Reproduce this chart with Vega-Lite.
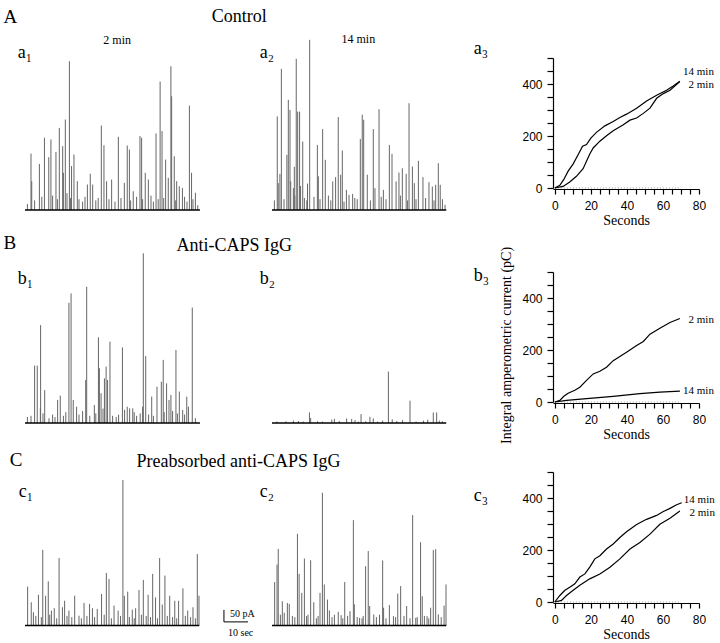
{
  "$schema": "https://vega.github.io/schema/vega-lite/v6.json",
  "background": "white",
  "padding": {"left": 3, "top": 7, "right": 4, "bottom": 4},
  "config": {
    "view": {"stroke": null},
    "axis": {"minExtent": 0, "grid": false, "titleFont": "Liberation Serif", "titleFontWeight": "normal", "titleColor": "black", "labelFont": "Liberation Sans", "labelColor": "black", "domainColor": "black", "tickColor": "black"},
    "text": {"font": "Liberation Serif", "color": "black"}
  },
  "datasets": {
    "rec": [
      {"panel": "a1", "start": 0, "end": 72.9}, {"panel": "a2", "start": 0, "end": 72.6},
      {"panel": "b1", "start": 0, "end": 72.9}, {"panel": "b2", "start": 0, "end": 72.6},
      {"panel": "c1", "start": 0, "end": 72.6}, {"panel": "c2", "start": 0, "end": 72.6},
      {"panel": "a3", "start": 0, "end": 70}, {"panel": "b3", "start": 0, "end": 70}, {"panel": "c3", "start": 0, "end": 70}
    ],
    "scalebar": [{"amplitude": "50 pA", "duration": "10 sec"}],
    "spikes": [
      {"panel":"a1","t":2.5,"h":235},{"panel":"a1","t":2.8,"h":120},{"panel":"a1","t":6.0,"h":192},{"panel":"a1","t":8.1,"h":301},{"panel":"a1","t":9.9,"h":220},{"panel":"a1","t":10.8,"h":294},{"panel":"a1","t":12.9,"h":242},{"panel":"a1","t":14.3,"h":342},{"panel":"a1","t":15.7,"h":266},{"panel":"a1","t":16.0,"h":155},{"panel":"a1","t":16.8,"h":377},{"panel":"a1","t":18.5,"h":620},{"panel":"a1","t":19.4,"h":183},{"panel":"a1","t":20.4,"h":231},{"panel":"a1","t":21.8,"h":120},{"panel":"a1","t":26.0,"h":106},{"panel":"a1","t":27.2,"h":151},{"panel":"a1","t":28.2,"h":106},{"panel":"a1","t":31.8,"h":352},{"panel":"a1","t":32.9,"h":270},{"panel":"a1","t":34.0,"h":120},{"panel":"a1","t":36.1,"h":127},{"panel":"a1","t":38.9,"h":305},{"panel":"a1","t":41.4,"h":113},{"panel":"a1","t":42.6,"h":269},{"panel":"a1","t":43.5,"h":252},{"panel":"a1","t":45.1,"h":78},{"panel":"a1","t":47.9,"h":308},{"panel":"a1","t":48.6,"h":301},{"panel":"a1","t":50.1,"h":155},{"panel":"a1","t":51.4,"h":127},{"panel":"a1","t":54.6,"h":319},{"panel":"a1","t":56.3,"h":535},{"panel":"a1","t":57.1,"h":329},{"panel":"a1","t":58.6,"h":210},{"panel":"a1","t":59.7,"h":134},{"panel":"a1","t":60.8,"h":599},{"panel":"a1","t":61.1,"h":474},{"panel":"a1","t":62.2,"h":224},{"panel":"a1","t":63.2,"h":120},{"panel":"a1","t":64.3,"h":99},{"panel":"a1","t":65.6,"h":92},{"panel":"a1","t":68.5,"h":435},{"panel":"a1","t":69.4,"h":155},{"panel":"a1","t":71.0,"h":72},
      {"panel":"a1","t":1,"h":25},{"panel":"a1","t":4,"h":40},{"panel":"a1","t":7,"h":55},{"panel":"a1","t":11.5,"h":60},{"panel":"a1","t":13.5,"h":45},{"panel":"a1","t":17.5,"h":70},{"panel":"a1","t":19,"h":50},{"panel":"a1","t":22.5,"h":45},{"panel":"a1","t":24,"h":35},{"panel":"a1","t":25,"h":55},{"panel":"a1","t":29.5,"h":40},{"panel":"a1","t":30.5,"h":50},{"panel":"a1","t":35,"h":45},{"panel":"a1","t":37.5,"h":35},{"panel":"a1","t":40,"h":50},{"panel":"a1","t":44,"h":40},{"panel":"a1","t":46.5,"h":55},{"panel":"a1","t":49,"h":45},{"panel":"a1","t":52.5,"h":60},{"panel":"a1","t":53.5,"h":35},{"panel":"a1","t":55.5,"h":45},{"panel":"a1","t":57.8,"h":50},{"panel":"a1","t":62.8,"h":40},{"panel":"a1","t":66.5,"h":55},{"panel":"a1","t":67.5,"h":35},{"panel":"a1","t":70,"h":45},{"panel":"a1","t":72,"h":20},
      {"panel":"a2","t":2.2,"h":390},{"panel":"a2","t":2.6,"h":112},{"panel":"a2","t":3.9,"h":588},{"panel":"a2","t":6.2,"h":230},{"panel":"a2","t":6.8,"h":459},{"panel":"a2","t":7.5,"h":417},{"panel":"a2","t":8.9,"h":91},{"panel":"a2","t":10.1,"h":630},{"panel":"a2","t":10.7,"h":410},{"panel":"a2","t":11.5,"h":410},{"panel":"a2","t":12.8,"h":285},{"panel":"a2","t":15.7,"h":709},{"panel":"a2","t":18.9,"h":271},{"panel":"a2","t":19.3,"h":140},{"panel":"a2","t":21.1,"h":337},{"panel":"a2","t":22.2,"h":209},{"panel":"a2","t":25.3,"h":119},{"panel":"a2","t":26.5,"h":137},{"panel":"a2","t":27.6,"h":387},{"panel":"a2","t":28.6,"h":147},{"panel":"a2","t":29.3,"h":248},{"panel":"a2","t":31.0,"h":84},{"panel":"a2","t":32.1,"h":63},{"panel":"a2","t":33.6,"h":67},{"panel":"a2","t":36.8,"h":296},{"panel":"a2","t":37.6,"h":397},{"panel":"a2","t":38.2,"h":376},{"panel":"a2","t":39.7,"h":147},{"panel":"a2","t":42.2,"h":337},{"panel":"a2","t":42.9,"h":91},{"panel":"a2","t":44.6,"h":420},{"panel":"a2","t":46.4,"h":84},{"panel":"a2","t":48.9,"h":271},{"panel":"a2","t":50.0,"h":234},{"panel":"a2","t":51.7,"h":119},{"panel":"a2","t":52.9,"h":156},{"panel":"a2","t":54.3,"h":174},{"panel":"a2","t":55.9,"h":151},{"panel":"a2","t":57.1,"h":445},{"panel":"a2","t":58.5,"h":181},{"panel":"a2","t":59.3,"h":112},{"panel":"a2","t":61.0,"h":205},{"panel":"a2","t":62.9,"h":137},{"panel":"a2","t":65.4,"h":116},{"panel":"a2","t":66.8,"h":98},{"panel":"a2","t":68.2,"h":105},{"panel":"a2","t":69.3,"h":195},{"panel":"a2","t":70.1,"h":105},{"panel":"a2","t":72.1,"h":22},
      {"panel":"a2","t":3.3,"h":150},{"panel":"a2","t":7.8,"h":120},{"panel":"a2","t":9.3,"h":180},{"panel":"a2","t":11.9,"h":100},{"panel":"a2","t":14.8,"h":110},
      {"panel":"a2","t":1,"h":40},{"panel":"a2","t":5,"h":45},{"panel":"a2","t":9.5,"h":60},{"panel":"a2","t":13.5,"h":50},{"panel":"a2","t":14.5,"h":40},{"panel":"a2","t":17.5,"h":55},{"panel":"a2","t":20,"h":45},{"panel":"a2","t":23.5,"h":60},{"panel":"a2","t":24.5,"h":40},{"panel":"a2","t":30,"h":35},{"panel":"a2","t":34.5,"h":50},{"panel":"a2","t":35.5,"h":45},{"panel":"a2","t":41,"h":40},{"panel":"a2","t":45.5,"h":55},{"panel":"a2","t":47.5,"h":45},{"panel":"a2","t":53.5,"h":60},{"panel":"a2","t":56.5,"h":40},{"panel":"a2","t":60,"h":45},{"panel":"a2","t":64,"h":50},{"panel":"a2","t":67.5,"h":40},{"panel":"a2","t":71,"h":45},
      {"panel":"b1","t":4.0,"h":239},{"panel":"b1","t":5.1,"h":239},{"panel":"b1","t":6.4,"h":61},{"panel":"b1","t":6.5,"h":408},{"panel":"b1","t":8.2,"h":137},{"panel":"b1","t":13.6,"h":96},{"panel":"b1","t":14.7,"h":114},{"panel":"b1","t":18.3,"h":501},{"panel":"b1","t":19.2,"h":540},{"panel":"b1","t":20.1,"h":96},{"panel":"b1","t":21.5,"h":68},{"panel":"b1","t":25.3,"h":179},{"panel":"b1","t":25.7,"h":568},{"panel":"b1","t":28.9,"h":75},{"panel":"b1","t":30.6,"h":357},{"panel":"b1","t":31.0,"h":228},{"panel":"b1","t":31.7,"h":124},{"panel":"b1","t":33.1,"h":186},{"panel":"b1","t":33.8,"h":235},{"panel":"b1","t":34.4,"h":179},{"panel":"b1","t":35.4,"h":339},{"panel":"b1","t":40.6,"h":315},{"panel":"b1","t":42.6,"h":68},{"panel":"b1","t":43.6,"h":61},{"panel":"b1","t":44.9,"h":61},{"panel":"b1","t":49.0,"h":68},{"panel":"b1","t":49.3,"h":707},{"panel":"b1","t":50.3,"h":279},{"panel":"b1","t":52.8,"h":110},{"panel":"b1","t":55.0,"h":151},{"panel":"b1","t":56.8,"h":172},{"panel":"b1","t":57.6,"h":263},{"panel":"b1","t":59.0,"h":165},{"panel":"b1","t":60.0,"h":96},{"panel":"b1","t":60.8,"h":117},{"panel":"b1","t":62.9,"h":304},{"panel":"b1","t":64.3,"h":131},{"panel":"b1","t":65.7,"h":54},{"panel":"b1","t":67.4,"h":110},{"panel":"b1","t":68.1,"h":68},{"panel":"b1","t":69.7,"h":481},
      {"panel":"b1","t":1,"h":25},{"panel":"b1","t":2.5,"h":30},{"panel":"b1","t":7.5,"h":40},{"panel":"b1","t":10,"h":20},{"panel":"b1","t":11.5,"h":35},{"panel":"b1","t":12.5,"h":25},{"panel":"b1","t":16,"h":30},{"panel":"b1","t":17,"h":45},{"panel":"b1","t":22.5,"h":35},{"panel":"b1","t":24,"h":50},{"panel":"b1","t":27,"h":30},{"panel":"b1","t":29.5,"h":40},{"panel":"b1","t":32.5,"h":60},{"panel":"b1","t":36.5,"h":30},{"panel":"b1","t":38,"h":25},{"panel":"b1","t":39,"h":35},{"panel":"b1","t":41.5,"h":55},{"panel":"b1","t":45.5,"h":45},{"panel":"b1","t":46.5,"h":30},{"panel":"b1","t":48,"h":40},{"panel":"b1","t":51.5,"h":35},{"panel":"b1","t":53.5,"h":30},{"panel":"b1","t":58,"h":45},{"panel":"b1","t":61.5,"h":50},{"panel":"b1","t":63.5,"h":40},{"panel":"b1","t":66.5,"h":35},{"panel":"b1","t":71,"h":20},
      {"panel":"b2","t":5.8,"h":7},{"panel":"b2","t":8.9,"h":10},{"panel":"b2","t":15.6,"h":44},{"panel":"b2","t":16.1,"h":21},{"panel":"b2","t":24.9,"h":14},{"panel":"b2","t":26.0,"h":17},{"panel":"b2","t":31.1,"h":19},{"panel":"b2","t":33.2,"h":17},{"panel":"b2","t":34.6,"h":12},{"panel":"b2","t":37.1,"h":37},{"panel":"b2","t":40.8,"h":26},{"panel":"b2","t":42.2,"h":19},{"panel":"b2","t":46.1,"h":10},{"panel":"b2","t":48.5,"h":214},{"panel":"b2","t":50.1,"h":15},{"panel":"b2","t":54.4,"h":12},{"panel":"b2","t":57.5,"h":93},{"panel":"b2","t":63.1,"h":10},{"panel":"b2","t":64.9,"h":14},{"panel":"b2","t":67.2,"h":44},{"panel":"b2","t":68.6,"h":44},{"panel":"b2","t":69.7,"h":10},
      {"panel":"b2","t":2,"h":6},{"panel":"b2","t":11,"h":8},{"panel":"b2","t":13,"h":6},{"panel":"b2","t":19,"h":7},{"panel":"b2","t":21,"h":6},{"panel":"b2","t":28,"h":8},{"panel":"b2","t":36,"h":6},{"panel":"b2","t":39,"h":7},{"panel":"b2","t":44,"h":6},{"panel":"b2","t":52,"h":8},{"panel":"b2","t":60,"h":6},{"panel":"b2","t":71,"h":7},
      {"panel":"c1","t":1.1,"h":162},{"panel":"c1","t":2.6,"h":97},{"panel":"c1","t":3.5,"h":55},{"panel":"c1","t":5.6,"h":128},{"panel":"c1","t":7.4,"h":315},{"panel":"c1","t":8.6,"h":124},{"panel":"c1","t":9.7,"h":184},{"panel":"c1","t":11.0,"h":62},{"panel":"c1","t":12.2,"h":72},{"panel":"c1","t":14.2,"h":281},{"panel":"c1","t":15.6,"h":76},{"panel":"c1","t":16.5,"h":103},{"panel":"c1","t":18.3,"h":62},{"panel":"c1","t":20.7,"h":124},{"panel":"c1","t":22.5,"h":41},{"panel":"c1","t":24.6,"h":94},{"panel":"c1","t":26.9,"h":90},{"panel":"c1","t":28.1,"h":72},{"panel":"c1","t":30.1,"h":69},{"panel":"c1","t":31.9,"h":131},{"panel":"c1","t":33.9,"h":219},{"panel":"c1","t":35.0,"h":194},{"panel":"c1","t":37.1,"h":83},{"panel":"c1","t":38.8,"h":62},{"panel":"c1","t":40.8,"h":606},{"panel":"c1","t":41.4,"h":124},{"panel":"c1","t":42.8,"h":141},{"panel":"c1","t":44.7,"h":66},{"panel":"c1","t":46.1,"h":72},{"panel":"c1","t":47.5,"h":148},{"panel":"c1","t":49.3,"h":190},{"panel":"c1","t":51.3,"h":128},{"panel":"c1","t":53.2,"h":215},{"panel":"c1","t":54.4,"h":117},{"panel":"c1","t":56.1,"h":281},{"panel":"c1","t":57.2,"h":87},{"panel":"c1","t":58.3,"h":208},{"panel":"c1","t":60.3,"h":124},{"panel":"c1","t":62.4,"h":103},{"panel":"c1","t":64.0,"h":103},{"panel":"c1","t":65.8,"h":155},{"panel":"c1","t":67.8,"h":62},{"panel":"c1","t":70.0,"h":76},{"panel":"c1","t":71.8,"h":298},{"panel":"c1","t":72.5,"h":124},
      {"panel":"c1","t":4.5,"h":40},{"panel":"c1","t":6.8,"h":35},{"panel":"c1","t":10.3,"h":45},{"panel":"c1","t":13.2,"h":30},{"panel":"c1","t":17.5,"h":40},{"panel":"c1","t":19.5,"h":35},{"panel":"c1","t":23.5,"h":30},{"panel":"c1","t":25.8,"h":40},{"panel":"c1","t":29,"h":35},{"panel":"c1","t":33,"h":45},{"panel":"c1","t":36,"h":30},{"panel":"c1","t":39.8,"h":40},{"panel":"c1","t":43.5,"h":35},{"panel":"c1","t":45.5,"h":30},{"panel":"c1","t":48.5,"h":45},{"panel":"c1","t":50.5,"h":40},{"panel":"c1","t":52.3,"h":35},{"panel":"c1","t":55.2,"h":30},{"panel":"c1","t":59.3,"h":40},{"panel":"c1","t":61.5,"h":35},{"panel":"c1","t":63.2,"h":30},{"panel":"c1","t":66.8,"h":40},{"panel":"c1","t":69,"h":35},{"panel":"c1","t":71,"h":30},
      {"panel":"c2","t":1.1,"h":181},{"panel":"c2","t":2.1,"h":254},{"panel":"c2","t":2.6,"h":319},{"panel":"c2","t":4.3,"h":101},{"panel":"c2","t":5.1,"h":53},{"panel":"c2","t":6.4,"h":94},{"panel":"c2","t":7.2,"h":90},{"panel":"c2","t":10.6,"h":382},{"panel":"c2","t":11.3,"h":215},{"panel":"c2","t":12.4,"h":136},{"panel":"c2","t":13.5,"h":279},{"panel":"c2","t":14.4,"h":39},{"panel":"c2","t":16.1,"h":272},{"panel":"c2","t":17.4,"h":97},{"panel":"c2","t":20.0,"h":136},{"panel":"c2","t":21.0,"h":553},{"panel":"c2","t":21.8,"h":171},{"panel":"c2","t":23.1,"h":108},{"panel":"c2","t":23.9,"h":63},{"panel":"c2","t":27.6,"h":57},{"panel":"c2","t":28.8,"h":43},{"panel":"c2","t":30.3,"h":181},{"panel":"c2","t":32.5,"h":60},{"panel":"c2","t":33.9,"h":439},{"panel":"c2","t":34.3,"h":88},{"panel":"c2","t":36.5,"h":32},{"panel":"c2","t":39.0,"h":247},{"panel":"c2","t":40.1,"h":310},{"panel":"c2","t":40.7,"h":81},{"panel":"c2","t":42.4,"h":46},{"panel":"c2","t":46.1,"h":271},{"panel":"c2","t":46.5,"h":74},{"panel":"c2","t":48.9,"h":85},{"panel":"c2","t":50.6,"h":39},{"panel":"c2","t":52.4,"h":133},{"panel":"c2","t":53.6,"h":164},{"panel":"c2","t":56.1,"h":81},{"panel":"c2","t":58.6,"h":460},{"panel":"c2","t":59.9,"h":32},{"panel":"c2","t":61.9,"h":347},{"panel":"c2","t":62.6,"h":122},{"panel":"c2","t":64.6,"h":39},{"panel":"c2","t":66.1,"h":74},{"panel":"c2","t":67.2,"h":314},{"panel":"c2","t":68.2,"h":318},{"panel":"c2","t":69.3,"h":46},{"panel":"c2","t":71.7,"h":83},{"panel":"c2","t":72.5,"h":171},
      {"panel":"c2","t":3.5,"h":45},{"panel":"c2","t":8.5,"h":40},{"panel":"c2","t":9.5,"h":35},{"panel":"c2","t":15,"h":45},{"panel":"c2","t":18.5,"h":30},{"panel":"c2","t":19.2,"h":40},{"panel":"c2","t":25,"h":35},{"panel":"c2","t":26,"h":45},{"panel":"c2","t":29.5,"h":30},{"panel":"c2","t":31.5,"h":40},{"panel":"c2","t":35.5,"h":35},{"panel":"c2","t":37.5,"h":30},{"panel":"c2","t":38,"h":40},{"panel":"c2","t":43.5,"h":35},{"panel":"c2","t":44.8,"h":45},{"panel":"c2","t":47.5,"h":30},{"panel":"c2","t":51.5,"h":35},{"panel":"c2","t":55,"h":40},{"panel":"c2","t":57.5,"h":30},{"panel":"c2","t":60.5,"h":35},{"panel":"c2","t":63.5,"h":40},{"panel":"c2","t":65.3,"h":30},{"panel":"c2","t":70.5,"h":35}
    ],
    "cum": [
      {"panel":"a3","series":"14 min","t":0,"v":0},{"panel":"a3","series":"14 min","t":2.8,"v":10},{"panel":"a3","series":"14 min","t":5,"v":33},{"panel":"a3","series":"14 min","t":7.4,"v":65},{"panel":"a3","series":"14 min","t":10.2,"v":93},{"panel":"a3","series":"14 min","t":13,"v":129},{"panel":"a3","series":"14 min","t":15.4,"v":161},{"panel":"a3","series":"14 min","t":17.6,"v":167},{"panel":"a3","series":"14 min","t":20,"v":192},{"panel":"a3","series":"14 min","t":23.1,"v":214},{"panel":"a3","series":"14 min","t":27.8,"v":239},{"panel":"a3","series":"14 min","t":32.4,"v":256},{"panel":"a3","series":"14 min","t":36.1,"v":271},{"panel":"a3","series":"14 min","t":39.8,"v":284},{"panel":"a3","series":"14 min","t":45.4,"v":307},{"panel":"a3","series":"14 min","t":50.9,"v":335},{"panel":"a3","series":"14 min","t":56.5,"v":357},{"panel":"a3","series":"14 min","t":62,"v":376},{"panel":"a3","series":"14 min","t":65.7,"v":392},{"panel":"a3","series":"14 min","t":69.4,"v":411},
      {"panel":"a3","series":"2 min","t":0,"v":0},{"panel":"a3","series":"2 min","t":4.6,"v":6},{"panel":"a3","series":"2 min","t":8.3,"v":23},{"panel":"a3","series":"2 min","t":12,"v":45},{"panel":"a3","series":"2 min","t":15.7,"v":74},{"panel":"a3","series":"2 min","t":19.4,"v":131},{"panel":"a3","series":"2 min","t":21.3,"v":154},{"panel":"a3","series":"2 min","t":25,"v":180},{"panel":"a3","series":"2 min","t":28.7,"v":201},{"panel":"a3","series":"2 min","t":32.4,"v":220},{"panel":"a3","series":"2 min","t":38,"v":243},{"panel":"a3","series":"2 min","t":41.7,"v":261},{"panel":"a3","series":"2 min","t":45.4,"v":269},{"panel":"a3","series":"2 min","t":49.1,"v":287},{"panel":"a3","series":"2 min","t":52.8,"v":307},{"panel":"a3","series":"2 min","t":56.5,"v":345},{"panel":"a3","series":"2 min","t":60.2,"v":363},{"panel":"a3","series":"2 min","t":63.9,"v":376},{"panel":"a3","series":"2 min","t":69.4,"v":409},
      {"panel":"b3","series":"2 min","t":0,"v":0},{"panel":"b3","series":"2 min","t":2.8,"v":6},{"panel":"b3","series":"2 min","t":5,"v":22},{"panel":"b3","series":"2 min","t":7.4,"v":34},{"panel":"b3","series":"2 min","t":11.1,"v":45},{"panel":"b3","series":"2 min","t":13.9,"v":57},{"panel":"b3","series":"2 min","t":17.6,"v":83},{"panel":"b3","series":"2 min","t":21.3,"v":108},{"panel":"b3","series":"2 min","t":25,"v":118},{"panel":"b3","series":"2 min","t":28.7,"v":134},{"panel":"b3","series":"2 min","t":32.4,"v":159},{"panel":"b3","series":"2 min","t":36.1,"v":175},{"panel":"b3","series":"2 min","t":39.8,"v":191},{"panel":"b3","series":"2 min","t":45.4,"v":217},{"panel":"b3","series":"2 min","t":49.1,"v":233},{"panel":"b3","series":"2 min","t":52.8,"v":261},{"panel":"b3","series":"2 min","t":58.3,"v":284},{"panel":"b3","series":"2 min","t":63.9,"v":306},{"panel":"b3","series":"2 min","t":69.4,"v":321},
      {"panel":"b3","series":"14 min","t":0,"v":0},{"panel":"b3","series":"14 min","t":6.5,"v":6},{"panel":"b3","series":"14 min","t":17.6,"v":13},{"panel":"b3","series":"14 min","t":32.4,"v":22},{"panel":"b3","series":"14 min","t":47.2,"v":32},{"panel":"b3","series":"14 min","t":58.3,"v":38},{"panel":"b3","series":"14 min","t":69.4,"v":42},
      {"panel":"c3","series":"14 min","t":0,"v":0},{"panel":"c3","series":"14 min","t":2.8,"v":25},{"panel":"c3","series":"14 min","t":5.6,"v":45},{"panel":"c3","series":"14 min","t":8.3,"v":57},{"panel":"c3","series":"14 min","t":11.1,"v":70},{"panel":"c3","series":"14 min","t":13.9,"v":96},{"panel":"c3","series":"14 min","t":16.7,"v":108},{"panel":"c3","series":"14 min","t":19.4,"v":134},{"panel":"c3","series":"14 min","t":22.2,"v":166},{"panel":"c3","series":"14 min","t":25,"v":178},{"panel":"c3","series":"14 min","t":28.7,"v":204},{"panel":"c3","series":"14 min","t":32.4,"v":223},{"panel":"c3","series":"14 min","t":36.1,"v":248},{"panel":"c3","series":"14 min","t":39.8,"v":270},{"panel":"c3","series":"14 min","t":45.4,"v":298},{"panel":"c3","series":"14 min","t":50.9,"v":318},{"panel":"c3","series":"14 min","t":56.5,"v":333},{"panel":"c3","series":"14 min","t":60.2,"v":348},{"panel":"c3","series":"14 min","t":63.9,"v":360},{"panel":"c3","series":"14 min","t":67.6,"v":374},{"panel":"c3","series":"14 min","t":70.4,"v":382},
      {"panel":"c3","series":"2 min","t":0,"v":0},{"panel":"c3","series":"2 min","t":3.7,"v":6},{"panel":"c3","series":"2 min","t":6.5,"v":25},{"panel":"c3","series":"2 min","t":10.2,"v":45},{"panel":"c3","series":"2 min","t":13.9,"v":64},{"panel":"c3","series":"2 min","t":19.4,"v":89},{"panel":"c3","series":"2 min","t":25,"v":108},{"panel":"c3","series":"2 min","t":30.6,"v":134},{"panel":"c3","series":"2 min","t":36.1,"v":166},{"panel":"c3","series":"2 min","t":41.7,"v":204},{"panel":"c3","series":"2 min","t":47.2,"v":229},{"panel":"c3","series":"2 min","t":52.8,"v":261},{"panel":"c3","series":"2 min","t":58.3,"v":299},{"panel":"c3","series":"2 min","t":63.9,"v":322},{"panel":"c3","series":"2 min","t":69.4,"v":350}
    ]
  },
  "columns": 3,
  "bounds": "flush",
  "align": "each",
  "spacing": {"row": 46, "column": 72},
  "concat": [
    {
      "width": 175, "height": 168,
      "layer": [
        {"data": {"name": "spikes"}, "transform": [{"filter": "datum.panel === 'a1'"}],
         "mark": {"type": "rule", "color": "#666", "strokeWidth": 1},
         "encoding": {
           "x": {"field": "t", "type": "quantitative", "scale": {"domain": [0, 72.92], "nice": false}, "axis": {"orient": "top", "labels": false, "ticks": false, "domain": false, "title": "2 min", "titleX": 91.7, "titleY": -14.7, "titleAngle": 0, "titleAlign": "center", "titleBaseline": "alphabetic", "titleFontSize": 12}},
           "y": {"field": "h", "type": "quantitative", "scale": {"domain": [-66.67, 633.33], "nice": false}, "axis": {"orient": "left", "labels": false, "ticks": false, "domain": false, "title": "a₁", "titleX": -7.7, "titleY": -0.7, "titleAngle": 0, "titleAlign": "left", "titleBaseline": "alphabetic", "titleFontSize": 18}},
           "y2": {"datum": 0}
         }},
        {"data": {"name": "rec"}, "transform": [{"filter": "datum.panel === 'a1'"}],
         "mark": {"type": "rule", "color": "black", "strokeWidth": 1.5},
         "encoding": {
           "x": {"field": "start", "type": "quantitative", "scale": {"domain": [0, 72.92], "nice": false}, "axis": {"orient": "bottom", "labels": false, "ticks": false, "domain": false, "title": "Control", "titleX": 213.7, "titleY": -205, "titleAngle": 0, "titleAlign": "center", "titleBaseline": "alphabetic", "titleFontSize": 18}},
           "x2": {"field": "end"},
           "y": {"datum": 0, "type": "quantitative", "scale": {"domain": [-66.67, 633.33], "nice": false}, "axis": {"orient": "right", "labels": false, "ticks": false, "domain": false, "title": "A", "titleX": -197, "titleY": -36, "titleAngle": 0, "titleAlign": "left", "titleBaseline": "alphabetic", "titleFontSize": 19}}
         }}
      ],
      "resolve": {"axis": {"x": "independent", "y": "independent"}}
    },
    {
      "width": 209, "height": 168,
      "layer": [
        {"data": {"name": "spikes"}, "transform": [{"filter": "datum.panel === 'a2'"}],
         "mark": {"type": "rule", "color": "#666", "strokeWidth": 1},
         "encoding": {
           "x": {"field": "t", "type": "quantitative", "scale": {"domain": [0, 87.08], "nice": false}, "axis": {"orient": "top", "labels": false, "ticks": false, "domain": false, "title": "14 min", "titleX": 85.8, "titleY": -15.3, "titleAngle": 0, "titleAlign": "center", "titleBaseline": "alphabetic", "titleFontSize": 12}},
           "y": {"field": "h", "type": "quantitative", "scale": {"domain": [-66.67, 633.33], "nice": false}, "axis": {"orient": "left", "labels": false, "ticks": false, "domain": false, "title": "a₂", "titleX": -12.7, "titleY": -0.7, "titleAngle": 0, "titleAlign": "left", "titleBaseline": "alphabetic", "titleFontSize": 18}},
           "y2": {"datum": 0}
         }},
        {"data": {"name": "rec"}, "transform": [{"filter": "datum.panel === 'a2'"}],
         "mark": {"type": "rule", "color": "black", "strokeWidth": 1.5},
         "encoding": {
           "x": {"field": "start", "type": "quantitative", "scale": {"domain": [0, 87.08], "nice": false}, "axis": null},
           "x2": {"field": "end"},
           "y": {"datum": 0, "type": "quantitative", "scale": {"domain": [-66.67, 633.33], "nice": false}, "axis": null}
         }}
      ],
      "resolve": {"axis": {"x": "independent", "y": "independent"}}
    },
    {
      "width": 146, "height": 130,
      "layer": [
        {"data": {"name": "rec"}, "transform": [{"filter": "datum.panel === 'a3'"}],
         "mark": {"type": "rule", "color": "#999", "strokeWidth": 1, "strokeDash": [1, 2]},
         "encoding": {
           "x": {"field": "start", "type": "quantitative", "scale": {"domain": [-1, 80], "nice": false}, "axis": null},
           "x2": {"field": "end"},
           "y": {"datum": 0, "type": "quantitative", "scale": {"domain": [0, 500], "nice": false}, "axis": null}
         }},
        {"data": {"name": "cum"}, "transform": [{"filter": "datum.panel === 'a3'"}],
         "mark": {"type": "line", "color": "black", "strokeWidth": 1.2},
         "encoding": {
           "x": {"field": "t", "type": "quantitative", "scale": {"domain": [-1, 80], "nice": false}, "axis": {"orient": "bottom", "offset": 1, "values": [0,5,10,15,20,25,30,35,40,45,50,55,60,65,70,75,80], "labelExpr": "datum.value % 20 === 0 ? datum.label : ''", "tickSize": 5, "tickWidth": 1.2, "domainWidth": 1.2, "labelFontSize": 12, "labelPadding": 6, "labelFlush": false, "labelOverlap": false, "title": "Seconds", "titleFontSize": 14, "titlePadding": 2}},
           "y": {"field": "v", "type": "quantitative", "scale": {"domain": [0, 500], "nice": false}, "axis": {"orient": "left", "values": [0,50,100,150,200,250,300,350,400,450,500], "labelExpr": "datum.value % 200 === 0 ? datum.label : ''", "tickSize": 6, "tickWidth": 1.2, "domainWidth": 1.2, "labelFontSize": 12, "labelPadding": 5, "labelOverlap": false, "title": null}},
           "detail": {"field": "series"}
         }},
        {"data": {"name": "cum"}, "transform": [{"filter": "datum.panel === 'a3' && datum.series === '14 min' && datum.t > 69"}],
         "mark": {"type": "text", "align": "right", "baseline": "middle", "dx": 34, "dy": -9, "fontSize": 11},
         "encoding": {
           "x": {"field": "t", "type": "quantitative", "scale": {"domain": [-1, 80], "nice": false}, "axis": {"orient": "top", "labels": false, "ticks": false, "domain": false, "title": "a₃", "titleX": -79.7, "titleY": -4.7, "titleAngle": 0, "titleAlign": "left", "titleBaseline": "alphabetic", "titleFontSize": 18}},
           "y": {"field": "v", "type": "quantitative", "scale": {"domain": [0, 500], "nice": false}, "axis": null},
           "text": {"field": "series"}
         }},
        {"data": {"name": "cum"}, "transform": [{"filter": "datum.panel === 'a3' && datum.series === '2 min' && datum.t > 69"}],
         "mark": {"type": "text", "align": "right", "baseline": "middle", "dx": 34, "dy": 3, "fontSize": 11},
         "encoding": {
           "x": {"field": "t", "type": "quantitative", "scale": {"domain": [-1, 80], "nice": false}, "axis": null},
           "y": {"field": "v", "type": "quantitative", "scale": {"domain": [0, 500], "nice": false}, "axis": null},
           "text": {"field": "series"}
         }}
      ],
      "resolve": {"axis": {"x": "independent", "y": "independent"}}
    },
    {
      "width": 175, "height": 154,
      "layer": [
        {"data": {"name": "spikes"}, "transform": [{"filter": "datum.panel === 'b1'"}],
         "mark": {"type": "rule", "color": "#666", "strokeWidth": 1},
         "encoding": {
           "x": {"field": "t", "type": "quantitative", "scale": {"domain": [0, 72.92], "nice": false}, "axis": null},
           "y": {"field": "h", "type": "quantitative", "scale": {"domain": [-12.5, 629.17], "nice": false}, "axis": {"orient": "left", "labels": false, "ticks": false, "domain": false, "title": "b₁", "titleX": -7.7, "titleY": 11.3, "titleAngle": 0, "titleAlign": "left", "titleBaseline": "alphabetic", "titleFontSize": 18}},
           "y2": {"datum": 0}
         }},
        {"data": {"name": "rec"}, "transform": [{"filter": "datum.panel === 'b1'"}],
         "mark": {"type": "rule", "color": "black", "strokeWidth": 1.5},
         "encoding": {
           "x": {"field": "start", "type": "quantitative", "scale": {"domain": [0, 72.92], "nice": false}, "axis": {"orient": "bottom", "labels": false, "ticks": false, "domain": false, "title": "Anti-CAPS IgG", "titleX": 208.7, "titleY": -176, "titleAngle": 0, "titleAlign": "center", "titleBaseline": "alphabetic", "titleFontSize": 18}},
           "x2": {"field": "end"},
           "y": {"datum": 0, "type": "quantitative", "scale": {"domain": [-12.5, 629.17], "nice": false}, "axis": {"orient": "right", "labels": false, "ticks": false, "domain": false, "title": "B", "titleX": -197, "titleY": -23.7, "titleAngle": 0, "titleAlign": "left", "titleBaseline": "alphabetic", "titleFontSize": 19}}
         }}
      ],
      "resolve": {"axis": {"x": "independent", "y": "independent"}}
    },
    {
      "width": 209, "height": 154,
      "layer": [
        {"data": {"name": "spikes"}, "transform": [{"filter": "datum.panel === 'b2'"}],
         "mark": {"type": "rule", "color": "#666", "strokeWidth": 1},
         "encoding": {
           "x": {"field": "t", "type": "quantitative", "scale": {"domain": [0, 87.08], "nice": false}, "axis": null},
           "y": {"field": "h", "type": "quantitative", "scale": {"domain": [-12.5, 629.17], "nice": false}, "axis": {"orient": "left", "labels": false, "ticks": false, "domain": false, "title": "b₂", "titleX": -12.7, "titleY": 11.3, "titleAngle": 0, "titleAlign": "left", "titleBaseline": "alphabetic", "titleFontSize": 18}},
           "y2": {"datum": 0}
         }},
        {"data": {"name": "rec"}, "transform": [{"filter": "datum.panel === 'b2'"}],
         "mark": {"type": "rule", "color": "black", "strokeWidth": 1.5},
         "encoding": {
           "x": {"field": "start", "type": "quantitative", "scale": {"domain": [0, 87.08], "nice": false}, "axis": null},
           "x2": {"field": "end"},
           "y": {"datum": 0, "type": "quantitative", "scale": {"domain": [-12.5, 629.17], "nice": false}, "axis": null}
         }}
      ],
      "resolve": {"axis": {"x": "independent", "y": "independent"}}
    },
    {
      "width": 146, "height": 130,
      "layer": [
        {"data": {"name": "rec"}, "transform": [{"filter": "datum.panel === 'b3'"}],
         "mark": {"type": "rule", "color": "#999", "strokeWidth": 1, "strokeDash": [1, 2]},
         "encoding": {
           "x": {"field": "start", "type": "quantitative", "scale": {"domain": [-1, 80], "nice": false}, "axis": null},
           "x2": {"field": "end"},
           "y": {"datum": 0, "type": "quantitative", "scale": {"domain": [0, 500], "nice": false}, "axis": null}
         }},
        {"data": {"name": "cum"}, "transform": [{"filter": "datum.panel === 'b3'"}],
         "mark": {"type": "line", "color": "black", "strokeWidth": 1.2},
         "encoding": {
           "x": {"field": "t", "type": "quantitative", "scale": {"domain": [-1, 80], "nice": false}, "axis": {"orient": "bottom", "offset": 1, "values": [0,5,10,15,20,25,30,35,40,45,50,55,60,65,70,75,80], "labelExpr": "datum.value % 20 === 0 ? datum.label : ''", "tickSize": 5, "tickWidth": 1.2, "domainWidth": 1.2, "labelFontSize": 12, "labelPadding": 6, "labelFlush": false, "labelOverlap": false, "title": "Seconds", "titleFontSize": 14, "titlePadding": 2}},
           "y": {"field": "v", "type": "quantitative", "scale": {"domain": [0, 500], "nice": false}, "axis": {"orient": "left", "values": [0,50,100,150,200,250,300,350,400,450,500], "labelExpr": "datum.value % 200 === 0 ? datum.label : ''", "tickSize": 6, "tickWidth": 1.2, "domainWidth": 1.2, "labelFontSize": 12, "labelPadding": 5, "labelOverlap": false, "title": "Integral amperometric  current (pC)", "titleFontSize": 14, "titleX": -47, "titleY": 73, "titleAngle": 270, "titleAlign": "center", "titleBaseline": "middle"}},
           "detail": {"field": "series"}
         }},
        {"data": {"name": "cum"}, "transform": [{"filter": "datum.panel === 'b3' && datum.series === '14 min' && datum.t > 69"}],
         "mark": {"type": "text", "align": "right", "baseline": "middle", "dx": 34, "dy": 0, "fontSize": 11},
         "encoding": {
           "x": {"field": "t", "type": "quantitative", "scale": {"domain": [-1, 80], "nice": false}, "axis": {"orient": "top", "labels": false, "ticks": false, "domain": false, "title": "b₃", "titleX": -79.7, "titleY": 8, "titleAngle": 0, "titleAlign": "left", "titleBaseline": "alphabetic", "titleFontSize": 18}},
           "y": {"field": "v", "type": "quantitative", "scale": {"domain": [0, 500], "nice": false}, "axis": null},
           "text": {"field": "series"}
         }},
        {"data": {"name": "cum"}, "transform": [{"filter": "datum.panel === 'b3' && datum.series === '2 min' && datum.t > 69"}],
         "mark": {"type": "text", "align": "right", "baseline": "middle", "dx": 34, "dy": 1, "fontSize": 11},
         "encoding": {
           "x": {"field": "t", "type": "quantitative", "scale": {"domain": [-1, 80], "nice": false}, "axis": null},
           "y": {"field": "v", "type": "quantitative", "scale": {"domain": [0, 500], "nice": false}, "axis": null},
           "text": {"field": "series"}
         }}
      ],
      "resolve": {"axis": {"x": "independent", "y": "independent"}}
    },
    {
      "width": 175, "height": 155,
      "layer": [
        {"data": {"name": "spikes"}, "transform": [{"filter": "datum.panel === 'c1'"}],
         "mark": {"type": "rule", "color": "#666", "strokeWidth": 1},
         "encoding": {
           "x": {"field": "t", "type": "quantitative", "scale": {"domain": [0, 72.92], "nice": false}, "axis": null},
           "y": {"field": "h", "type": "quantitative", "scale": {"domain": [-6.25, 639.58], "nice": false}, "axis": {"orient": "left", "labels": false, "ticks": false, "domain": false, "title": "c₁", "titleX": -6.7, "titleY": 24.7, "titleAngle": 0, "titleAlign": "left", "titleBaseline": "alphabetic", "titleFontSize": 18}},
           "y2": {"datum": 0}
         }},
        {"data": {"name": "rec"}, "transform": [{"filter": "datum.panel === 'c1'"}],
         "mark": {"type": "rule", "color": "black", "strokeWidth": 1.5},
         "encoding": {
           "x": {"field": "start", "type": "quantitative", "scale": {"domain": [0, 72.92], "nice": false}, "axis": {"orient": "bottom", "labels": false, "ticks": false, "domain": false, "title": "Preabsorbed anti-CAPS IgG", "titleX": 213, "titleY": -160.3, "titleAngle": 0, "titleAlign": "center", "titleBaseline": "alphabetic", "titleFontSize": 18}},
           "x2": {"field": "end"},
           "y": {"datum": 0, "type": "quantitative", "scale": {"domain": [-6.25, 639.58], "nice": false}, "axis": {"orient": "right", "labels": false, "ticks": false, "domain": false, "title": "C", "titleX": -190.7, "titleY": -7, "titleAngle": 0, "titleAlign": "left", "titleBaseline": "alphabetic", "titleFontSize": 19}}
         }},
        {"data": {"name": "scalebar"},
         "mark": {"type": "rule", "color": "black", "strokeWidth": 1},
         "encoding": {
           "x": {"datum": 82.9, "type": "quantitative", "scale": {"domain": [0, 72.92], "nice": false}, "axis": null},
           "y": {"datum": 15, "type": "quantitative", "scale": {"domain": [-6.25, 639.58], "nice": false}, "axis": null},
           "y2": {"datum": 65}
         }},
        {"data": {"name": "scalebar"},
         "mark": {"type": "rule", "color": "black", "strokeWidth": 1},
         "encoding": {
           "x": {"datum": 82.9, "type": "quantitative", "scale": {"domain": [0, 72.92], "nice": false}, "axis": null},
           "x2": {"datum": 92.9},
           "y": {"datum": 15, "type": "quantitative", "scale": {"domain": [-6.25, 639.58], "nice": false}, "axis": null}
         }},
        {"data": {"name": "scalebar"},
         "mark": {"type": "text", "align": "left", "baseline": "alphabetic", "fontSize": 10},
         "encoding": {
           "x": {"datum": 85.4, "type": "quantitative", "scale": {"domain": [0, 72.92], "nice": false}, "axis": null},
           "y": {"datum": 36.7, "type": "quantitative", "scale": {"domain": [-6.25, 639.58], "nice": false}, "axis": null},
           "text": {"field": "amplitude"}
         }},
        {"data": {"name": "scalebar"},
         "mark": {"type": "text", "align": "left", "baseline": "alphabetic", "fontSize": 10},
         "encoding": {
           "x": {"datum": 84.6, "type": "quantitative", "scale": {"domain": [0, 72.92], "nice": false}, "axis": null},
           "y": {"datum": -42.5, "type": "quantitative", "scale": {"domain": [-6.25, 639.58], "nice": false}, "axis": null},
           "text": {"field": "duration"}
         }}
      ],
      "resolve": {"axis": {"x": "independent", "y": "independent"}}
    },
    {
      "width": 209, "height": 155,
      "layer": [
        {"data": {"name": "spikes"}, "transform": [{"filter": "datum.panel === 'c2'"}],
         "mark": {"type": "rule", "color": "#666", "strokeWidth": 1},
         "encoding": {
           "x": {"field": "t", "type": "quantitative", "scale": {"domain": [0, 87.08], "nice": false}, "axis": null},
           "y": {"field": "h", "type": "quantitative", "scale": {"domain": [-6.25, 639.58], "nice": false}, "axis": {"orient": "left", "labels": false, "ticks": false, "domain": false, "title": "c₂", "titleX": -12.7, "titleY": 24.7, "titleAngle": 0, "titleAlign": "left", "titleBaseline": "alphabetic", "titleFontSize": 18}},
           "y2": {"datum": 0}
         }},
        {"data": {"name": "rec"}, "transform": [{"filter": "datum.panel === 'c2'"}],
         "mark": {"type": "rule", "color": "black", "strokeWidth": 1.5},
         "encoding": {
           "x": {"field": "start", "type": "quantitative", "scale": {"domain": [0, 87.08], "nice": false}, "axis": null},
           "x2": {"field": "end"},
           "y": {"datum": 0, "type": "quantitative", "scale": {"domain": [-6.25, 639.58], "nice": false}, "axis": null}
         }}
      ],
      "resolve": {"axis": {"x": "independent", "y": "independent"}}
    },
    {
      "width": 146, "height": 130,
      "layer": [
        {"data": {"name": "rec"}, "transform": [{"filter": "datum.panel === 'c3'"}],
         "mark": {"type": "rule", "color": "#999", "strokeWidth": 1, "strokeDash": [1, 2]},
         "encoding": {
           "x": {"field": "start", "type": "quantitative", "scale": {"domain": [-1, 80], "nice": false}, "axis": null},
           "x2": {"field": "end"},
           "y": {"datum": 0, "type": "quantitative", "scale": {"domain": [0, 500], "nice": false}, "axis": null}
         }},
        {"data": {"name": "cum"}, "transform": [{"filter": "datum.panel === 'c3'"}],
         "mark": {"type": "line", "color": "black", "strokeWidth": 1.2},
         "encoding": {
           "x": {"field": "t", "type": "quantitative", "scale": {"domain": [-1, 80], "nice": false}, "axis": {"orient": "bottom", "offset": 1, "values": [0,5,10,15,20,25,30,35,40,45,50,55,60,65,70,75,80], "labelExpr": "datum.value % 20 === 0 ? datum.label : ''", "tickSize": 5, "tickWidth": 1.2, "domainWidth": 1.2, "labelFontSize": 12, "labelPadding": 6, "labelFlush": false, "labelOverlap": false, "title": "Seconds", "titleFontSize": 14, "titlePadding": 2}},
           "y": {"field": "v", "type": "quantitative", "scale": {"domain": [0, 500], "nice": false}, "axis": {"orient": "left", "values": [0,50,100,150,200,250,300,350,400,450,500], "labelExpr": "datum.value % 200 === 0 ? datum.label : ''", "tickSize": 6, "tickWidth": 1.2, "domainWidth": 1.2, "labelFontSize": 12, "labelPadding": 5, "labelOverlap": false, "title": null}},
           "detail": {"field": "series"}
         }},
        {"data": {"name": "cum"}, "transform": [{"filter": "datum.panel === 'c3' && datum.series === '14 min' && datum.t > 69"}],
         "mark": {"type": "text", "align": "right", "baseline": "middle", "dx": 33, "dy": -3, "fontSize": 11},
         "encoding": {
           "x": {"field": "t", "type": "quantitative", "scale": {"domain": [-1, 80], "nice": false}, "axis": {"orient": "top", "labels": false, "ticks": false, "domain": false, "title": "c₃", "titleX": -79.7, "titleY": 28, "titleAngle": 0, "titleAlign": "left", "titleBaseline": "alphabetic", "titleFontSize": 18}},
           "y": {"field": "v", "type": "quantitative", "scale": {"domain": [0, 500], "nice": false}, "axis": null},
           "text": {"field": "series"}
         }},
        {"data": {"name": "cum"}, "transform": [{"filter": "datum.panel === 'c3' && datum.series === '2 min' && datum.t > 69"}],
         "mark": {"type": "text", "align": "right", "baseline": "middle", "dx": 35, "dy": 2, "fontSize": 11},
         "encoding": {
           "x": {"field": "t", "type": "quantitative", "scale": {"domain": [-1, 80], "nice": false}, "axis": null},
           "y": {"field": "v", "type": "quantitative", "scale": {"domain": [0, 500], "nice": false}, "axis": null},
           "text": {"field": "series"}
         }}
      ],
      "resolve": {"axis": {"x": "independent", "y": "independent"}}
    }
  ]
}
